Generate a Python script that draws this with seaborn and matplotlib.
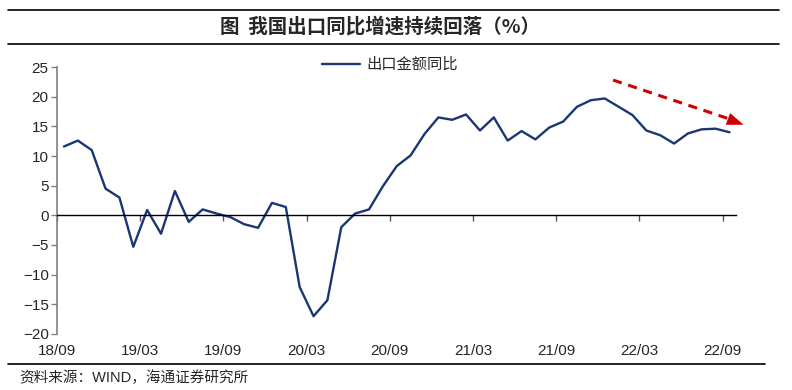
import matplotlib
matplotlib.use("Agg")
import matplotlib.pyplot as plt
import seaborn as sns
import pandas as pd
from matplotlib.lines import Line2D

# ==========================
# Data
# ==========================

months = list(range(49))  # 2018/09 ... 2022/09

export_yoy = [
    11.6, 12.6, 11.0, 4.5, 3.0, -5.3, 0.9, -3.1, 4.1, -1.1,
    1.0, 0.3, -0.3, -1.5, -2.1, 2.1, 1.4, -12.1, -17.0, -14.3,
    -2.0, 0.3, 1.0, 4.9, 8.3, 10.1, 13.7, 16.5, 16.1, 17.0,
    14.3, 16.5, 12.6, 14.2, 12.8, 14.8, 15.8, 18.3, 19.4, 19.7,
    18.3, 16.9, 14.3, 13.5, 12.1, 13.8, 14.5, 14.6, 14.0,
]

tick_labels = ["18/09", "19/03", "19/09", "20/03", "20/09",
               "21/03", "21/09", "22/03", "22/09"]

series_name = "出口金额同比"

# ==========================
# Style
# ==========================

sns.set_style("white")
plt.rcParams['font.family'] = ['Liberation Sans', 'Noto Sans CJK SC']

line_color = "#1b3671"
red = "#d00000"

fig = plt.figure(figsize=(7.92, 3.9), dpi=100)
ax = fig.add_axes([0.072, 0.1436, 0.857, 0.6846])

df = pd.DataFrame({"month": months, series_name: export_yoy})

sns.lineplot(
    data=df,
    x="month",
    y=series_name,
    ax=ax,
    color=line_color,
    linewidth=1.7,
    label=series_name
)
ax.lines[0].set_solid_joinstyle("round")

ax.set_xlim(-0.5, 48.45)
ax.set_ylim(-20, 25)
ax.set_yticks(range(-20, 26, 5))
ax.set_xlabel("")
ax.set_ylabel("")

# axes spines
ax.spines['top'].set_visible(False)
ax.spines['right'].set_visible(False)
ax.spines['bottom'].set_position(('data', 0))
ax.spines['bottom'].set_color("black")
ax.spines['bottom'].set_linewidth(1.0)
ax.spines['left'].set_color("#808080")
ax.spines['left'].set_linewidth(1.2)

tick_pos = [6 * j - 0.5 for j in range(len(tick_labels))]
ax.set_xticks(tick_pos)
ax.set_xticklabels([])
ax.tick_params(axis='x', direction='out', length=4, width=1, color="#555555", bottom=True)
ax.tick_params(axis='y', direction='out', length=4, width=1, color="#808080",
               labelsize=11, pad=2, left=True)

# x labels sit under the plot area
sec = ax.secondary_xaxis(location=0)
sec.set_xticks(tick_pos, labels=tick_labels)
sec.tick_params(length=0, pad=7, labelsize=11)
sec.spines['bottom'].set_visible(False)

# legend
ax.legend(
    loc="upper left",
    bbox_to_anchor=(0.39, 1.035),
    frameon=False,
    fontsize=11,
    handlelength=2.5,
    borderaxespad=0,
    borderpad=0,
    handletextpad=0.4
)

# red dashed trend arrow
ax.plot([39.6, 48.3], [22.8, 16.0], color=red, linewidth=2.2,
        linestyle=(0, (3, 2.2)), clip_on=False)
ax.annotate(
    "",
    xy=(49.2, 15.1),
    xytext=(48.0, 16.15),
    arrowprops=dict(arrowstyle="-|>,head_length=1.2,head_width=0.45",
                    color=red, lw=0),
    annotation_clip=False
)

# ==========================
# Title, rules and source
# ==========================

fig.text(0.48, 1 - 27 / 390, "图  我国出口同比增速持续回落（%）",
         ha="center", va="center", fontsize=14, fontweight="bold",
         family=['Noto Sans CJK SC'])

fig.add_artist(Line2D([0.01, 0.984], [1 - 10 / 390, 1 - 10 / 390], color="black", lw=1.2))
fig.add_artist(Line2D([0.01, 0.984], [1 - 44 / 390, 1 - 44 / 390], color="black", lw=1.2))
fig.add_artist(Line2D([0.01, 0.966], [1 - 364 / 390, 1 - 364 / 390], color="black", lw=1.2))

fig.text(19 / 792, 1 - 378 / 390, "资料来源：WIND，海通证券研究所",
         ha="left", va="center", fontsize=10.5,
         family=['Liberation Sans', 'Noto Sans CJK SC'])

plt.savefig("out.png", dpi=100)
plt.close()
